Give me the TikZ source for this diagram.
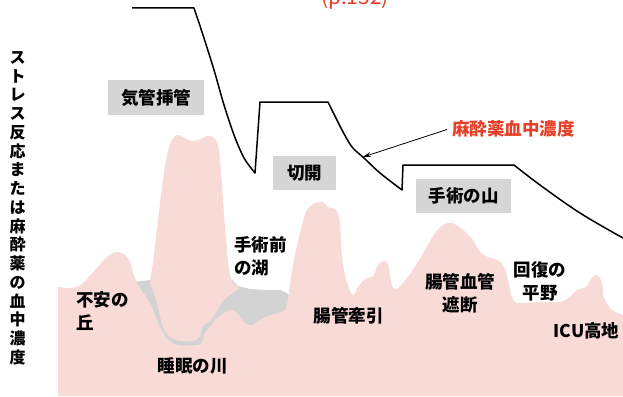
\documentclass[tikz,border=0pt]{standalone}
\usepackage{fontspec}
\setmainfont{Noto Sans CJK JP}
\usetikzlibrary{arrows.meta}
\definecolor{terrain}{RGB}{248,219,215}
\definecolor{river}{RGB}{211,211,211}
\definecolor{labelbg}{RGB}{214,214,214}
\definecolor{redtext}{RGB}{230,62,40}
\tikzset{
  gbox/.style={fill=labelbg, inner sep=0pt, font=\fontsize{17.5}{20}\selectfont\bfseries},
  place/.style={inner sep=0pt, font=\fontsize{17.5}{23}\selectfont\bfseries},
  curve/.style={line width=1.5pt, line join=round, black},
}
\begin{document}
\begin{tikzpicture}[x=1pt,y=-1pt]
\useasboundingbox (0,0) rectangle (623,396);
% river / lake (gray)
\fill[river] (134,282) -- (150,280) -- (232,280) -- (238,286) -- (250,289) -- (265,290) -- (280,290) -- (287,293) -- (292,300) -- (292,352) -- (134,352) -- cycle;
% main terrain
\fill[terrain] plot[smooth, tension=0.5] coordinates {
 (58,287) (72,288) (82,284) (95,270) (108,256) (117,252) (125,255) (130,262) (134,275) (138,285)
 (150,303) (160,327) (167,338) (177,345) (197,345) (202,342) (205,333) (210,327) (218,317) (230,310)
 (237,313) (245,323) (252,325) (263,318) (277,313) (285,310) (288,300) (289,292)
 (291,278) (294,260) (300,233) (306,212)
 (313,204) (322,202) (328,207) (336,210) (340,222) (341,245) (343,265) (347,283) (353,295) (358,287)
 (365,279) (373,276) (378,265) (384,261) (388,264) (390,275) (393,288) (398,288) (403,283) (413,270)
 (425,250) (435,233) (443,225) (452,223) (463,230) (473,240) (480,252) (488,257) (497,260) (503,265)
 (508,280) (512,297) (518,303) (540,302) (560,302) (570,297) (577,290) (586,287) (591,279) (597,275)
 (602,282) (604,298) (612,310) (623,315)}
 -- (623,396) -- (58,396) -- cycle;
% tall peak
\fill[terrain] plot[smooth cycle, tension=0.5] coordinates {
 (150,282) (153,262) (157,230) (161,195) (166,160) (171,142) (177,135) (184,138) (192,141) (200,139)
 (207,136) (213,137) (218,145) (221,170) (223,200) (226,240) (229,270) (233,283) (239,288)
 (230,295) (222,302) (217,311) (210,321) (203,326) (200,336) (194,341) (180,341) (170,337)
 (163,327) (157,303) (152,288)};
% anesthetic concentration curve
\draw[curve] (132,8) -- (194,8) -- plot[smooth, tension=0.5] coordinates {(194,8) (203,35) (214,70) (224,105) (234,135) (244,158) (255,173)}
  -- (260,102) -- (328,102) -- plot[smooth, tension=0.5] coordinates {(328,102) (342,130) (352,147) (364,158) (380,173) (402,190)}
  -- (403,165) -- (514,165) -- plot[smooth, tension=0.6] coordinates {(514,165) (540,185) (580,213) (623,238)};
\coordinate (tip) at (363,157);
% labels
\node[gbox, minimum width=96pt, minimum height=35pt] (intub) at (156,97.5) {気管挿管};
\node[gbox, minimum width=63pt, minimum height=34pt] (incis) at (304.5,173) {切開};
\node[gbox, minimum width=95pt, minimum height=34pt] (mount) at (463.5,196) {手術の山};
\node[place, align=left, anchor=north west] (lake) at (234,236) {手術前\\の湖};
\node[place, align=left, anchor=north west] (hill) at (76,291) {不安の\\丘};
\node[place] (river) at (192.5,366) {睡眠の川};
\node[place] (traction) at (348.5,315.5) {腸管牽引};
\node[place, align=center] (clamp) at (460,293) {腸管血管\\遮断};
\node[place, align=center] (plain) at (540,281) {回復の\\平野};
\node[place] (icu) at (586.5,330.5) {ICU高地};
\node[inner sep=0pt, anchor=west, text=redtext, font=\fontsize{17.5}{20}\selectfont\bfseries] (conc) at (452,128.5) {麻酔薬血中濃度};
\node[inner sep=0pt, anchor=base, text=redtext, font=\fontsize{21}{24}\selectfont] (page) at (355,5) {(p.152)};
\draw[-{Stealth[length=8pt,width=5pt]}, line width=0.8pt] (conc.west) ++(-5,1) -- (tip);
% vertical axis label
\node[inner sep=0pt, anchor=north, align=center, font=\fontsize{16}{18.75}\selectfont\bfseries] (axis) at (17.5,51)
 {ス\\ト\\レ\\ス\\反\\応\\ま\\た\\は\\麻\\酔\\薬\\の\\血\\中\\濃\\度};
\end{tikzpicture}
\end{document}
